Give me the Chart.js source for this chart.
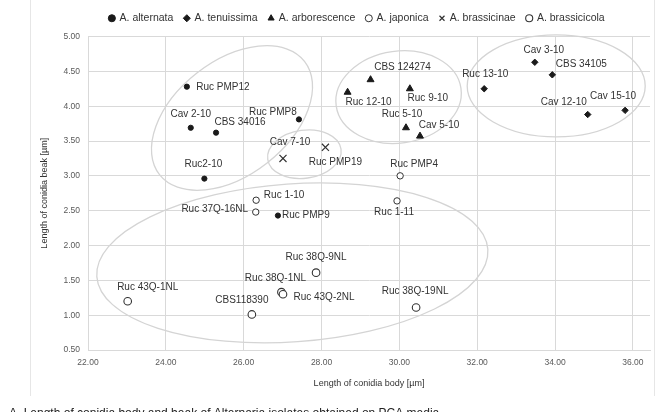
<!DOCTYPE html>
<html>
<head>
<meta charset="utf-8">
<script src="https://cdn.jsdelivr.net/npm/chart.js@4.4.1/dist/chart.umd.min.js"></script>
<style>
  html, body { margin: 0; padding: 0; background: #fff; }
</style>
</head>
<body>
<canvas id="myChart" width="669" height="412"></canvas>
<script>
// data: [length of body, length of beak]
var alternataNames = ['Ruc PMP12', 'Cav 2-10', 'CBS 34016', 'Ruc PMP8', 'Ruc2-10', 'Ruc PMP9'];
var alternataX = [24.54, 24.64, 25.29, 27.42, 24.99, 26.88];
var alternataY = [4.28, 3.69, 3.62, 3.81, 2.96, 2.43];

var tenuissimaNames = ['Ruc 13-10', 'Cav 3-10', 'CBS 34105', 'Cav 12-10', 'Cav 15-10'];
var tenuissimaX = [32.18, 33.48, 33.93, 34.84, 35.80];
var tenuissimaY = [4.25, 4.63, 4.45, 3.88, 3.94];

var arborescensNames = ['CBS 124274', 'Ruc 12-10', 'Ruc 9-10', 'Ruc 5-10', 'Cav 5-10'];
var arborescensX = [29.26, 28.67, 30.27, 30.17, 30.53];
var arborescensY = [4.38, 4.20, 4.25, 3.69, 3.57];

var japonicaNames = ['Ruc PMP4', 'Ruc 1-11', 'Ruc 1-10', 'Ruc 37Q-16NL'];
var japonicaX = [30.02, 29.94, 26.32, 26.31];
var japonicaY = [3.00, 2.64, 2.65, 2.48];

var brassicinaeNames = ['Cav 7-10', 'Ruc PMP19'];
var brassicinaeX = [27.01, 28.10];
var brassicinaeY = [3.25, 3.41];

var brassicicolaNames = ['Ruc 38Q-9NL', 'Ruc 38Q-1NL', 'Ruc 43Q-2NL', 'Ruc 43Q-1NL', 'CBS118390', 'Ruc 38Q-19NL'];
var brassicicolaX = [27.86, 26.97, 27.01, 23.02, 26.21, 30.43];
var brassicicolaY = [1.61, 1.33, 1.30, 1.20, 1.01, 1.11];

var xTicks = [22, 24, 26, 28, 30, 32, 34, 36];
var yTicks = [0.5, 1, 1.5, 2, 2.5, 3, 3.5, 4, 4.5, 5];

// label offsets in px from the marker (centre of text)
var labelOffsets = {
  'Ruc PMP12': [36, 1], 'Cav 2-10': [0, -14], 'CBS 34016': [24, -10], 'Ruc PMP8': [-26, -7],
  'Ruc2-10': [-1, -14], 'Ruc PMP9': [28, 0],
  'Ruc 13-10': [1, -15], 'Cav 3-10': [9, -12], 'CBS 34105': [29, -11], 'Cav 12-10': [-24, -12], 'Cav 15-10': [-12, -14],
  'CBS 124274': [32, -12], 'Ruc 12-10': [21, 10], 'Ruc 9-10': [18, 9], 'Ruc 5-10': [-4, -14], 'Cav 5-10': [19, -11],
  'Ruc PMP4': [14, -12], 'Ruc 1-11': [-3, 11], 'Ruc 1-10': [28, -5], 'Ruc 37Q-16NL': [-41, -3],
  'Cav 7-10': [7, -16], 'Ruc PMP19': [10, 15],
  'Ruc 38Q-9NL': [0, -15], 'Ruc 38Q-1NL': [-6, -14], 'Ruc 43Q-2NL': [41, 3], 'Ruc 43Q-1NL': [20, -14],
  'CBS118390': [-10, -14], 'Ruc 38Q-19NL': [-1, -16]
};

// grey group outlines: centre in data units, radii in px, rotation in degrees
var ellipses = [
  {x: 25.7, y: 3.83, rx: 92, ry: 57, rot: -38},
  {x: 27.56, y: 3.31, rx: 37, ry: 24, rot: -8},
  {x: 29.98, y: 4.13, rx: 63, ry: 46, rot: -8},
  {x: 34.03, y: 4.29, rx: 89, ry: 51, rot: 0},
  {x: 27.25, y: 1.75, rx: 196, ry: 79, rot: -4}
];

function pts(xs, ys) {
  return xs.map(function (v, i) { return {x: v, y: ys[i]}; });
}

var ink = '#1a1a1a';
var fam = '"Liberation Sans", Arial, sans-serif';

// a bit more room under the legend, and nudge it right like the original
var legendGap = {
  id: 'legendGap',
  afterInit: function (chart) {
    var lg = chart.legend;
    var fit = lg.fit;
    var draw = lg.draw;
    lg.fit = function () { fit.call(lg); lg.height += 3; };
    lg.draw = function () {
      chart.ctx.save();
      chart.ctx.translate(17, 0);
      draw.call(lg);
      chart.ctx.restore();
    };
  }
};

var ellipsePlugin = {
  id: 'groupEllipses',
  beforeDatasetsDraw: function (chart) {
    var ctx = chart.ctx, xs = chart.scales.x, ys = chart.scales.y;
    ctx.save();
    ctx.strokeStyle = '#d4d4d4';
    ctx.lineWidth = 1.3;
    ellipses.forEach(function (e) {
      ctx.beginPath();
      ctx.ellipse(xs.getPixelForValue(e.x), ys.getPixelForValue(e.y), e.rx, e.ry, e.rot * Math.PI / 180, 0, Math.PI * 2);
      ctx.stroke();
    });
    ctx.restore();
  }
};

var labelPlugin = {
  id: 'pointNames',
  afterDatasetsDraw: function (chart) {
    var ctx = chart.ctx;
    ctx.save();
    ctx.font = '10px ' + fam;
    ctx.fillStyle = '#333';
    ctx.textAlign = 'center';
    ctx.textBaseline = 'middle';
    chart.data.datasets.forEach(function (ds, di) {
      var meta = chart.getDatasetMeta(di);
      meta.data.forEach(function (el, i) {
        var name = ds.names[i];
        var off = labelOffsets[name] || [0, -12];
        ctx.fillText(name, el.x + off[0], el.y + off[1]);
      });
    });
    ctx.restore();
  }
};

var framePlugin = {
  id: 'frame',
  afterDraw: function (chart) {
    var ctx = chart.ctx;
    ctx.save();
    ctx.strokeStyle = '#e6e6e6';
    ctx.lineWidth = 1;
    ctx.beginPath();
    ctx.moveTo(30.5, 0); ctx.lineTo(30.5, 396);
    ctx.moveTo(654.5, 0); ctx.lineTo(654.5, 396);
    ctx.stroke();
    ctx.fillStyle = '#222';
    ctx.font = '12px ' + fam;
    ctx.textAlign = 'left';
    ctx.textBaseline = 'alphabetic';
    ctx.fillText('A. Length of conidia body and beak of Alternaria isolates obtained on PCA media', 9, 417);
    ctx.restore();
  }
};

var ctx = document.getElementById('myChart').getContext('2d');
var myChart = new Chart(ctx, {
  type: 'scatter',
  data: {
    datasets: [
      {label: 'A. alternata', names: alternataNames, data: pts(alternataX, alternataY),
        pointStyle: 'circle', pointRadius: 2.6, backgroundColor: ink, borderColor: ink, borderWidth: 1},
      {label: 'A. tenuissima', names: tenuissimaNames, data: pts(tenuissimaX, tenuissimaY),
        pointStyle: 'rectRot', pointRadius: 3.2, backgroundColor: ink, borderColor: ink, borderWidth: 1},
      {label: 'A. arborescence', names: arborescensNames, data: pts(arborescensX, arborescensY),
        pointStyle: 'triangle', pointRadius: 4, backgroundColor: ink, borderColor: ink, borderWidth: 1},
      {label: 'A. japonica', names: japonicaNames, data: pts(japonicaX, japonicaY),
        pointStyle: 'circle', pointRadius: 3.2, backgroundColor: '#fff', borderColor: '#333', borderWidth: 1},
      {label: 'A. brassicinae', names: brassicinaeNames, data: pts(brassicinaeX, brassicinaeY),
        pointStyle: 'crossRot', pointRadius: 5, backgroundColor: '#333', borderColor: '#333', borderWidth: 1.2},
      {label: 'A. brassicicola', names: brassicicolaNames, data: pts(brassicicolaX, brassicicolaY),
        pointStyle: 'circle', pointRadius: 3.8, backgroundColor: '#fff', borderColor: '#333', borderWidth: 1.1}
    ]
  },
  options: {
    responsive: false,
    animation: false,
    layout: {padding: {left: 30, right: 19, top: 2, bottom: 22}},
    plugins: {
      tooltip: {enabled: false},
      legend: {
        position: 'top',
        labels: {
          usePointStyle: true,
          boxWidth: 5,
          boxHeight: 5,
          padding: 11,
          color: '#333',
          font: {size: 10.5, family: fam}
        }
      }
    },
    scales: {
      x: {
        type: 'linear',
        min: 22,
        max: 36.44,
        afterBuildTicks: function (axis) { axis.ticks = xTicks.map(function (v) { return {value: v}; }); },
        afterFit: function (axis) { axis.height = 40; },
        ticks: {
          color: '#595959',
          padding: 8,
          maxRotation: 0,
          font: {size: 8.5, family: fam},
          callback: function (v) { return Number(v).toFixed(2); }
        },
        grid: {color: '#d9d9d9', drawTicks: false},
        border: {color: '#d9d9d9'},
        title: {display: true, text: 'Length of conidia body [µm]', color: '#333', padding: {top: 4, bottom: 1},
          font: {size: 9, family: fam}}
      },
      y: {
        type: 'linear',
        min: 0.5,
        max: 5,
        afterBuildTicks: function (axis) { axis.ticks = yTicks.map(function (v) { return {value: v}; }); },
        afterFit: function (axis) { axis.width = 58; },
        ticks: {
          color: '#595959',
          padding: 8,
          font: {size: 8.5, family: fam},
          callback: function (v) { return Number(v).toFixed(2); }
        },
        grid: {color: '#d9d9d9', drawTicks: false},
        border: {color: '#d9d9d9'},
        title: {display: true, text: 'Length of conidia beak [µm]', color: '#333', padding: {top: 9, bottom: 4},
          font: {size: 9, family: fam}}
      }
    }
  },
  plugins: [legendGap, ellipsePlugin, labelPlugin, framePlugin]
});
</script>
</body>
</html>
